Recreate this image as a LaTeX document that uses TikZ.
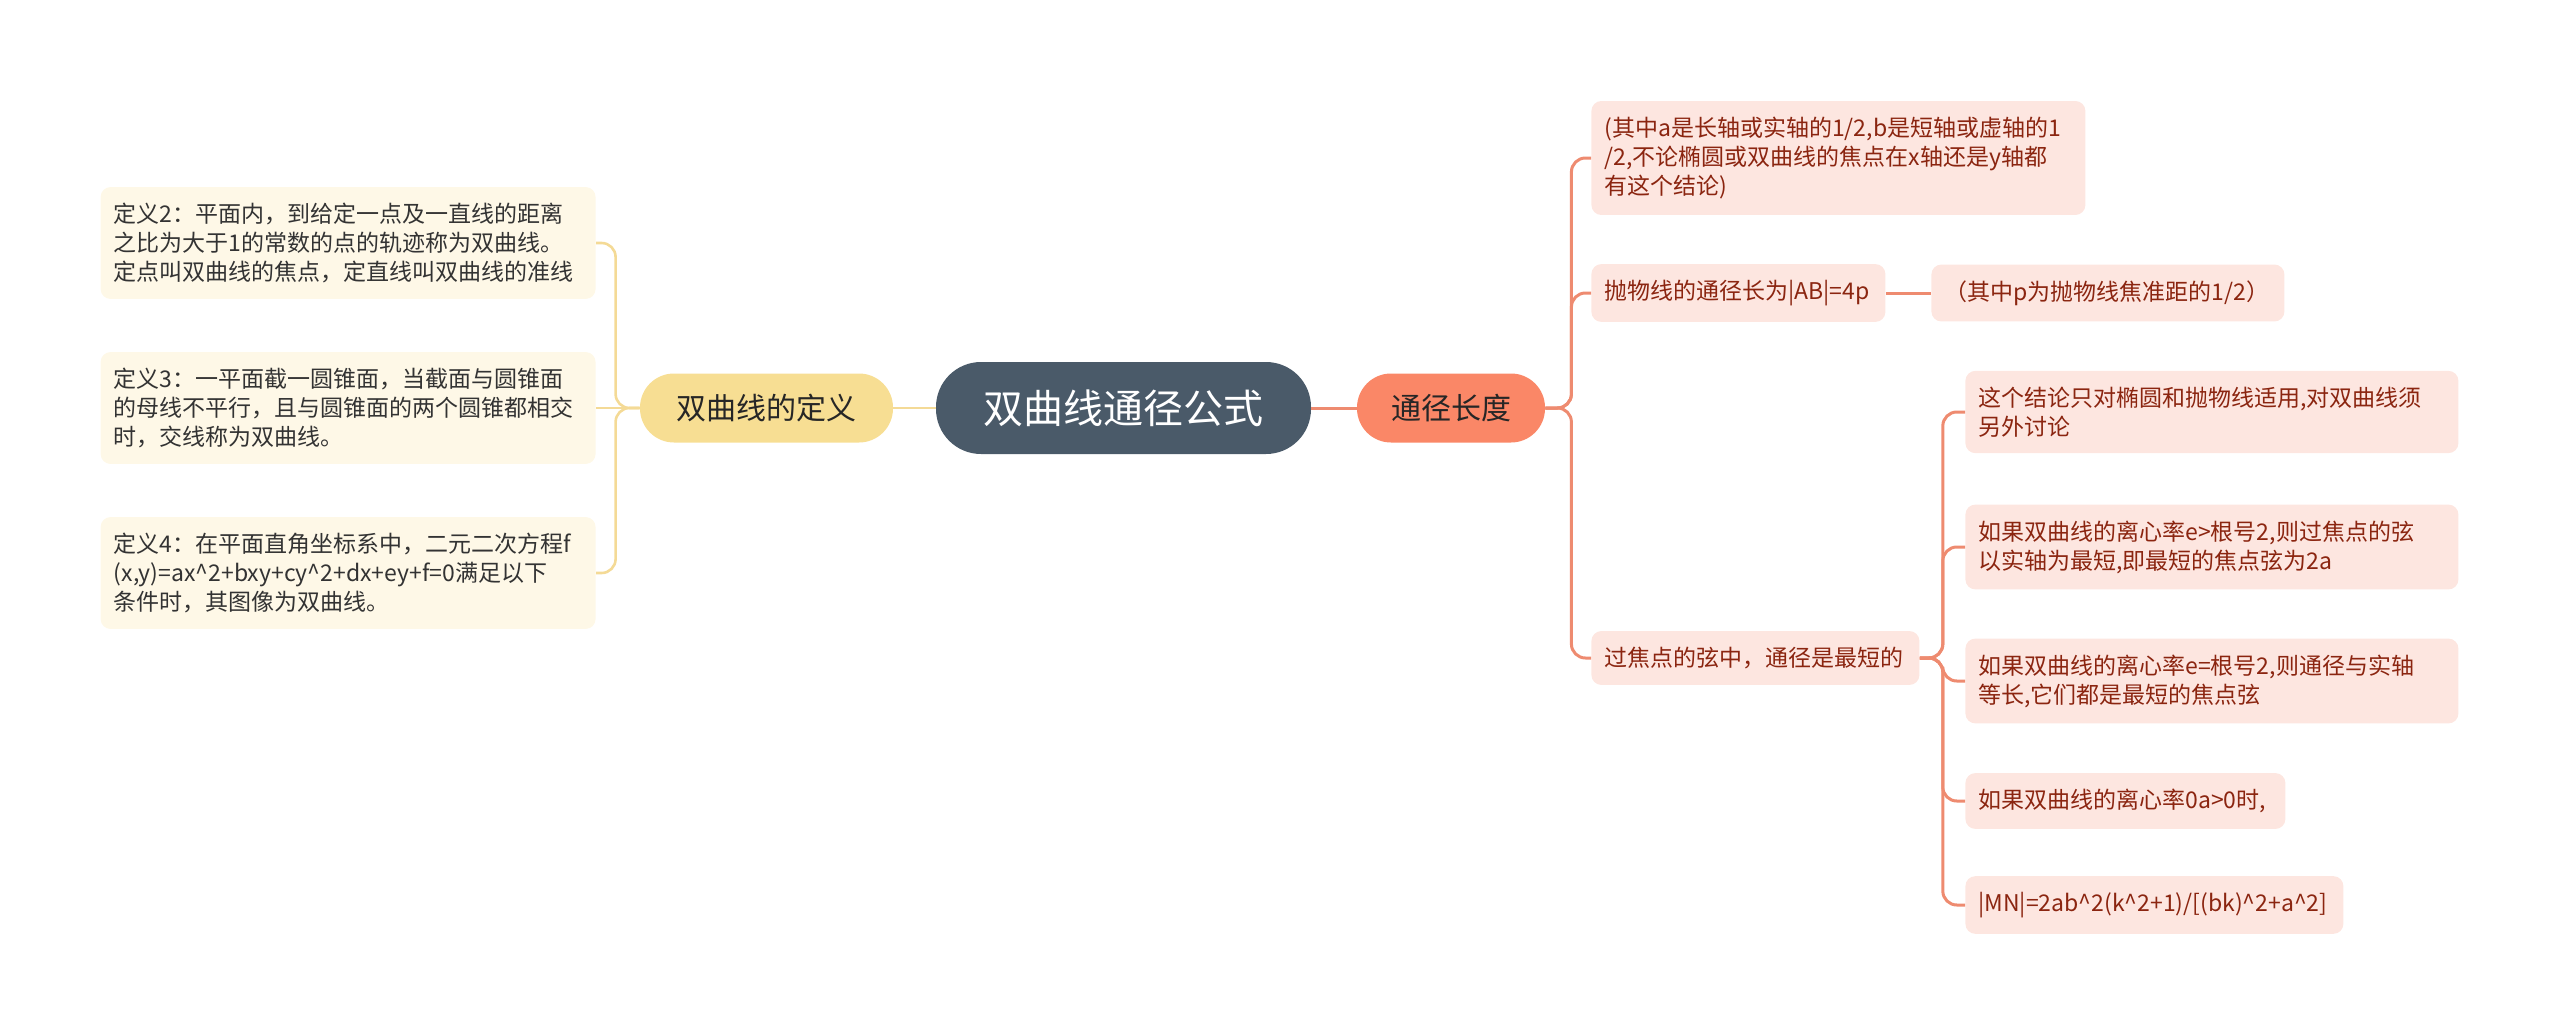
\documentclass[tikz,border=0pt]{standalone}
\usepackage{fontspec}
\setmainfont{Noto Sans CJK SC}

\definecolor{rootfill}{HTML}{4A5A69}
\definecolor{defFill}{HTML}{F7DE93}
\definecolor{lenFill}{HTML}{FA8767}
\definecolor{leafY}{HTML}{FEF8E7}
\definecolor{leafR}{HTML}{FDE6E0}
\definecolor{textR}{HTML}{8B2510}
\definecolor{lineY}{HTML}{F4DA96}
\definecolor{lineR}{HTML}{EE8B70}

\begin{document}
\begin{tikzpicture}[x=0.5pt,y=-0.5pt,
  rootnode/.style={fill=rootfill, text=white, rounded corners=22.5pt,
    minimum width=187.5pt, minimum height=46pt, align=center,
    font=\fontsize{20}{24}\selectfont},
  topic/.style={rounded corners=17pt, minimum height=34.5pt, align=center,
    text=black!85, font=\fontsize{15}{18}\selectfont},
  leafy/.style={fill=leafY, text=black!80, anchor=east, rounded corners=5pt,
    inner xsep=6.5pt, inner ysep=8pt, align=left, text width=#1,
    font=\fontsize{11.5}{14.5}\selectfont},
  leafr/.style={fill=leafR, text=textR, anchor=west, rounded corners=5pt,
    inner xsep=6.5pt, inner ysep=8pt, align=left, text width=#1,
    font=\fontsize{11.5}{14.5}\selectfont},
  lny/.style={draw=lineY, line width=1.3pt, rounded corners=7pt},
  lnr/.style={draw=lineR, line width=1.5pt, rounded corners=7pt}]
\useasboundingbox (0,0) rectangle (2560,1033);

% define the centre and the two main topics
  \node[rootnode] (root) at (1123.5,408) {双曲线通径公式};
  \node[topic, fill=defFill, minimum width=126.5pt] (def) at (766.5,408) {双曲线的定义};
  \node[topic, fill=lenFill, minimum width=94pt] (len) at (1451,408) {通径长度};

% define the leaves on the left
  \node[leafy=234.5pt] (d2) at (596,243) {定义2：平面内，到给定一点及一直线的距离\\之比为大于1的常数的点的轨迹称为双曲线。\\定点叫双曲线的焦点，定直线叫双曲线的准线};
  \node[leafy=234.5pt] (d3) at (596,408) {定义3：一平面截一圆锥面，当截面与圆锥面\\的母线不平行，且与圆锥面的两个圆锥都相交\\时，交线称为双曲线。};
  \node[leafy=234.5pt] (d4) at (596,573) {定义4：在平面直角坐标系中，二元二次方程f\\(x,y)=ax\textasciicircum2+bxy+cy\textasciicircum2+dx+ey+f=0满足以下\\条件时，其图像为双曲线。};

% define the leaves on the right
  \node[leafr=234pt] (a) at (1591,158) {(其中a是长轴或实轴的1/2,b是短轴或虚轴的1\\/2,不论椭圆或双曲线的焦点在x轴还是y轴都\\有这个结论)};
  \node[leafr=134pt] (b) at (1591,293) {抛物线的通径长为|AB|=4p};
  \node[leafr=163.5pt] (bc) at (1931,293) {（其中p为抛物线焦准距的1/2）};
  \node[leafr=151pt] (c) at (1591,658) {过焦点的弦中，通径是最短的};
  \node[leafr=233.5pt] (c1) at (1965,412) {这个结论只对椭圆和抛物线适用,对双曲线须\\另外讨论};
  \node[leafr=233.5pt] (c2) at (1965,547) {如果双曲线的离心率e>根号2,则过焦点的弦\\以实轴为最短,即最短的焦点弦为2a};
  \node[leafr=233.5pt] (c3) at (1965,681) {如果双曲线的离心率e=根号2,则通径与实轴\\等长,它们都是最短的焦点弦};
  \node[leafr=147pt] (c4) at (1965,801) {如果双曲线的离心率0a>0时,};
  \node[leafr=176pt] (c5) at (1965,905) {|MN|=2ab\textasciicircum2(k\textasciicircum2+1)/[(bk)\textasciicircum2+a\textasciicircum2]};

% define the links
  \draw[lny] (root.west) -- (def.east);
  \draw[lnr] (root.east) -- (len.west);
  \draw[lny] (def.west) -- (d3.east);
  \foreach \n in {d2,d4}
    \draw[lny] (def.west) -- ++(-24,0) |- (\n.east);
  \foreach \n in {a,b,c}
    \draw[lnr] (len.east) -- ++(26,0) |- (\n.west);
  \draw[lnr] (b.east) -- (bc.west);
  \foreach \n in {c1,c2,c3,c4,c5}
    \draw[lnr] (c.east) -- ++(23,0) |- (\n.west);
\end{tikzpicture}
\end{document}
